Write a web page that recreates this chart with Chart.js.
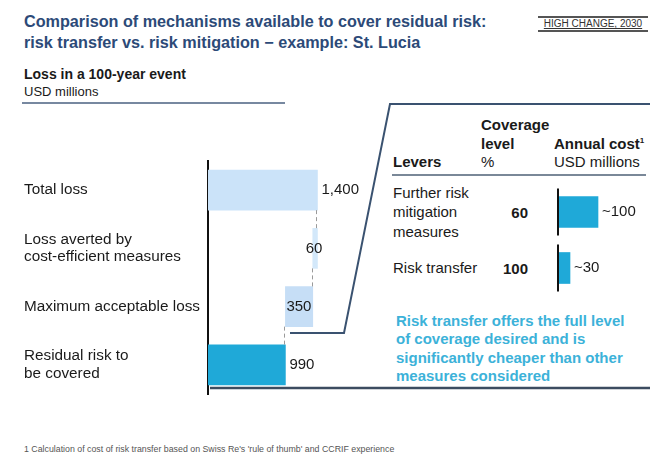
<!DOCTYPE html>
<html>
<head>
<meta charset="utf-8">
<script src="https://cdn.jsdelivr.net/npm/chart.js@4.4.1/dist/chart.umd.min.js"></script>
<style>
  html, body { margin:0; padding:0; background:#fff; }
  body { width:662px; height:457px; position:relative; overflow:hidden; font-family:"Liberation Sans", Arial, sans-serif; color:#1a1a1a; }
  .t { position:absolute; white-space:nowrap; }
  #title { left:24px; top:11px; font-size:16.2px; font-weight:bold; color:#2c4a78; line-height:21px; }
  #tag { left:538px; top:16px; width:110px; font-size:10px; color:#333; text-align:center; border-top:2px solid #555; border-bottom:2px solid #555; line-height:12px; text-decoration:underline; }
  #sub1 { left:24px; top:66px; font-size:14px; font-weight:bold; }
  #sub2 { left:24px; top:84px; font-size:13px; }
  .hdr { font-size:15px; font-weight:bold; line-height:19px; }
  .reg { font-size:15px; line-height:19px; }
  #note { left:396px; top:312px; font-size:15px; font-weight:bold; color:#3cb2d9; line-height:18.3px; }
  #foot { left:24px; top:444px; font-size:8.8px; color:#555; }
  svg { position:absolute; left:0; top:0; }
  canvas { position:absolute; }
</style>
</head>
<body>
<svg width="662" height="457">
  <line x1="22" y1="103" x2="285" y2="103" stroke="#4a6080" stroke-width="1.5"/>
  <polyline points="650,104 390,104 344,333 290,333" fill="none" stroke="#3a5270" stroke-width="2"/>
  <line x1="392" y1="175" x2="646" y2="175" stroke="#7a8898" stroke-width="2"/>
  <line x1="210" y1="388" x2="650" y2="388" stroke="#3c4c60" stroke-width="2.5"/>
</svg>

<div class="t" id="title">Comparison of mechanisms available to cover residual risk:<br>risk transfer vs. risk mitigation − example: St. Lucia</div>
<div class="t" id="tag">HIGH CHANGE, 2030</div>
<div class="t" id="sub1">Loss in a 100-year event</div>
<div class="t" id="sub2">USD millions</div>

<div class="t hdr" style="left:393px;top:152px;">Levers</div>
<div class="t hdr" style="left:481px;top:115px;">Coverage<br>level</div>
<div class="t reg" style="left:481px;top:152px;">%</div>
<div class="t hdr" style="left:554px;top:134px;">Annual cost<sup style="font-size:8px;vertical-align:6px;line-height:0">1</sup></div>
<div class="t reg" style="left:554px;top:152px;">USD millions</div>

<div id="levers"></div>

<div class="t" id="note">Risk transfer offers the full level<br>of coverage desired and is<br>significantly cheaper than other<br>measures considered</div>
<div class="t" id="foot">1 Calculation of cost of risk transfer based on Swiss Re's 'rule of thumb' and CCRIF experience</div>

<canvas id="left" width="380" height="236" style="left:0;top:160px;width:380px;height:236px;"></canvas>
<canvas id="right" width="122" height="120" style="left:540px;top:180px;width:122px;height:120px;"></canvas>

<script>
// ---- data ----
const lossCategories = [["Total loss"], ["Loss averted by", "cost-efficient measures"], ["Maximum acceptable loss"], ["Residual risk to", "be covered"]];
const lossStart = [0, 1340, 990, 0];
const lossEnd = [1400, 1400, 1340, 990];
const lossLabels = ["1,400", "60", "350", "990"];

const leverNames = [["Further risk", "mitigation", "measures"], ["Risk transfer"]];
const coverageLevels = ["60", "100"];
const annualCost = [100, 30];
const annualCostLabels = ["~100", "~30"];

// lever text rows (HTML)
const leverCenters = [212, 268];
const lv = document.getElementById('levers');
leverNames.forEach((lines, i) => {
  const d = document.createElement('div');
  d.className = 't reg';
  d.style.left = '393px';
  d.style.top = (leverCenters[i] - lines.length * 19.5 / 2) + 'px';
  d.style.lineHeight = '19.5px';
  d.innerHTML = lines.join('<br>');
  lv.appendChild(d);
  const c = document.createElement('div');
  c.className = 't hdr';
  c.style.left = '490px';
  c.style.width = '38px';
  c.style.textAlign = 'right';
  c.style.top = (leverCenters[i] - 9.5) + 'px';
  c.textContent = coverageLevels[i];
  lv.appendChild(c);
});

const FONT = '"Liberation Sans", Arial, sans-serif';

// ---- left waterfall ----
const waterfallPlugin = {
  id: 'waterfallExtras',
  afterDatasetsDraw(chart) {
    const ctx = chart.ctx;
    const meta = chart.getDatasetMeta(0);
    const xs = chart.scales.x;
    ctx.save();
    ctx.strokeStyle = '#9a9a9a';
    ctx.lineWidth = 1;
    ctx.setLineDash([4, 3]);
    const joins = [lossEnd[0], lossStart[1], lossStart[2]];
    for (let i = 0; i < 3; i++) {
      const a = meta.data[i], b = meta.data[i + 1];
      const x = Math.round(xs.getPixelForValue(joins[i])) - 0.5;
      ctx.beginPath();
      ctx.moveTo(x, a.y + a.height / 2);
      ctx.lineTo(x, b.y - b.height / 2);
      ctx.stroke();
    }
    ctx.setLineDash([]);
    ctx.font = '15px ' + FONT;
    ctx.fillStyle = '#1a1a1a';
    ctx.textBaseline = 'middle';
    meta.data.forEach((el, i) => {
      const x0 = xs.getPixelForValue(lossStart[i]);
      const x1 = xs.getPixelForValue(lossEnd[i]);
      if (i === 1) { ctx.textAlign = 'center'; ctx.fillText(lossLabels[i], (x0 + x1) / 2 - 1, el.y); }
      else if (i === 2) { ctx.textAlign = 'left'; ctx.fillText(lossLabels[i], x0 + 1, el.y); }
      else { ctx.textAlign = 'left'; ctx.fillText(lossLabels[i], x1 + 4, el.y); }
    });
    ctx.restore();
  }
};

new Chart(document.getElementById('left'), {
  type: 'bar',
  data: {
    labels: lossCategories,
    datasets: [{
      data: lossStart.map((s, i) => [s, lossEnd[i]]),
      backgroundColor: ['#cbe3f9', '#d3e8fa', '#c6def6', '#1fa9d8'],
      borderWidth: 0,
      borderSkipped: false,
      barThickness: 40
    }]
  },
  options: {
    indexAxis: 'y',
    responsive: false,
    animation: false,
    devicePixelRatio: 1,
    layout: { padding: { left: 24, right: 0, top: 1, bottom: 2 } },
    plugins: { legend: { display: false }, tooltip: { enabled: false } },
    scales: {
      x: { display: false, min: 0, max: 2200 },
      y: {
        grid: { display: false, drawTicks: false },
        border: { display: true, color: '#111', width: 2 },
        ticks: {
          crossAlign: 'far',
          padding: 0,
          color: '#1a1a1a',
          font: { family: FONT, size: 15.3, lineHeight: 1.16 }
        },
        afterFit(scale) { scale.width = 184; scale.paddingTop = 0; scale.paddingBottom = 0; }
      }
    }
  },
  plugins: [waterfallPlugin]
});

// ---- right cost bars ----
const costPlugin = {
  id: 'costExtras',
  afterDatasetsDraw(chart) {
    const ctx = chart.ctx;
    const meta = chart.getDatasetMeta(0);
    const xs = chart.scales.x;
    const x0 = xs.getPixelForValue(0);
    ctx.save();
    ctx.strokeStyle = '#111';
    ctx.lineWidth = 2;
    meta.data.forEach((el, i) => {
      ctx.beginPath();
      ctx.moveTo(x0, el.y - el.height / 2 - 8);
      ctx.lineTo(x0, el.y + el.height / 2 + 8);
      ctx.stroke();
      ctx.font = '15px ' + FONT;
      ctx.fillStyle = '#1a1a1a';
      ctx.textAlign = 'left';
      ctx.textBaseline = 'middle';
      ctx.fillText(annualCostLabels[i], el.x + 4, el.y);
    });
    ctx.restore();
  }
};

new Chart(document.getElementById('right'), {
  type: 'bar',
  data: {
    labels: leverNames.map(l => l.join(' ')),
    datasets: [{ data: annualCost, backgroundColor: '#1fa9d8', borderWidth: 0, barThickness: 31 }]
  },
  options: {
    indexAxis: 'y',
    responsive: false,
    animation: false,
    devicePixelRatio: 1,
    layout: { padding: { left: 18, right: 4, top: 4, bottom: 4 } },
    plugins: { legend: { display: false }, tooltip: { enabled: false } },
    scales: {
      x: { display: false, min: 0, max: 250 },
      y: { display: false }
    }
  },
  plugins: [costPlugin]
});
</script>
</body>
</html>
